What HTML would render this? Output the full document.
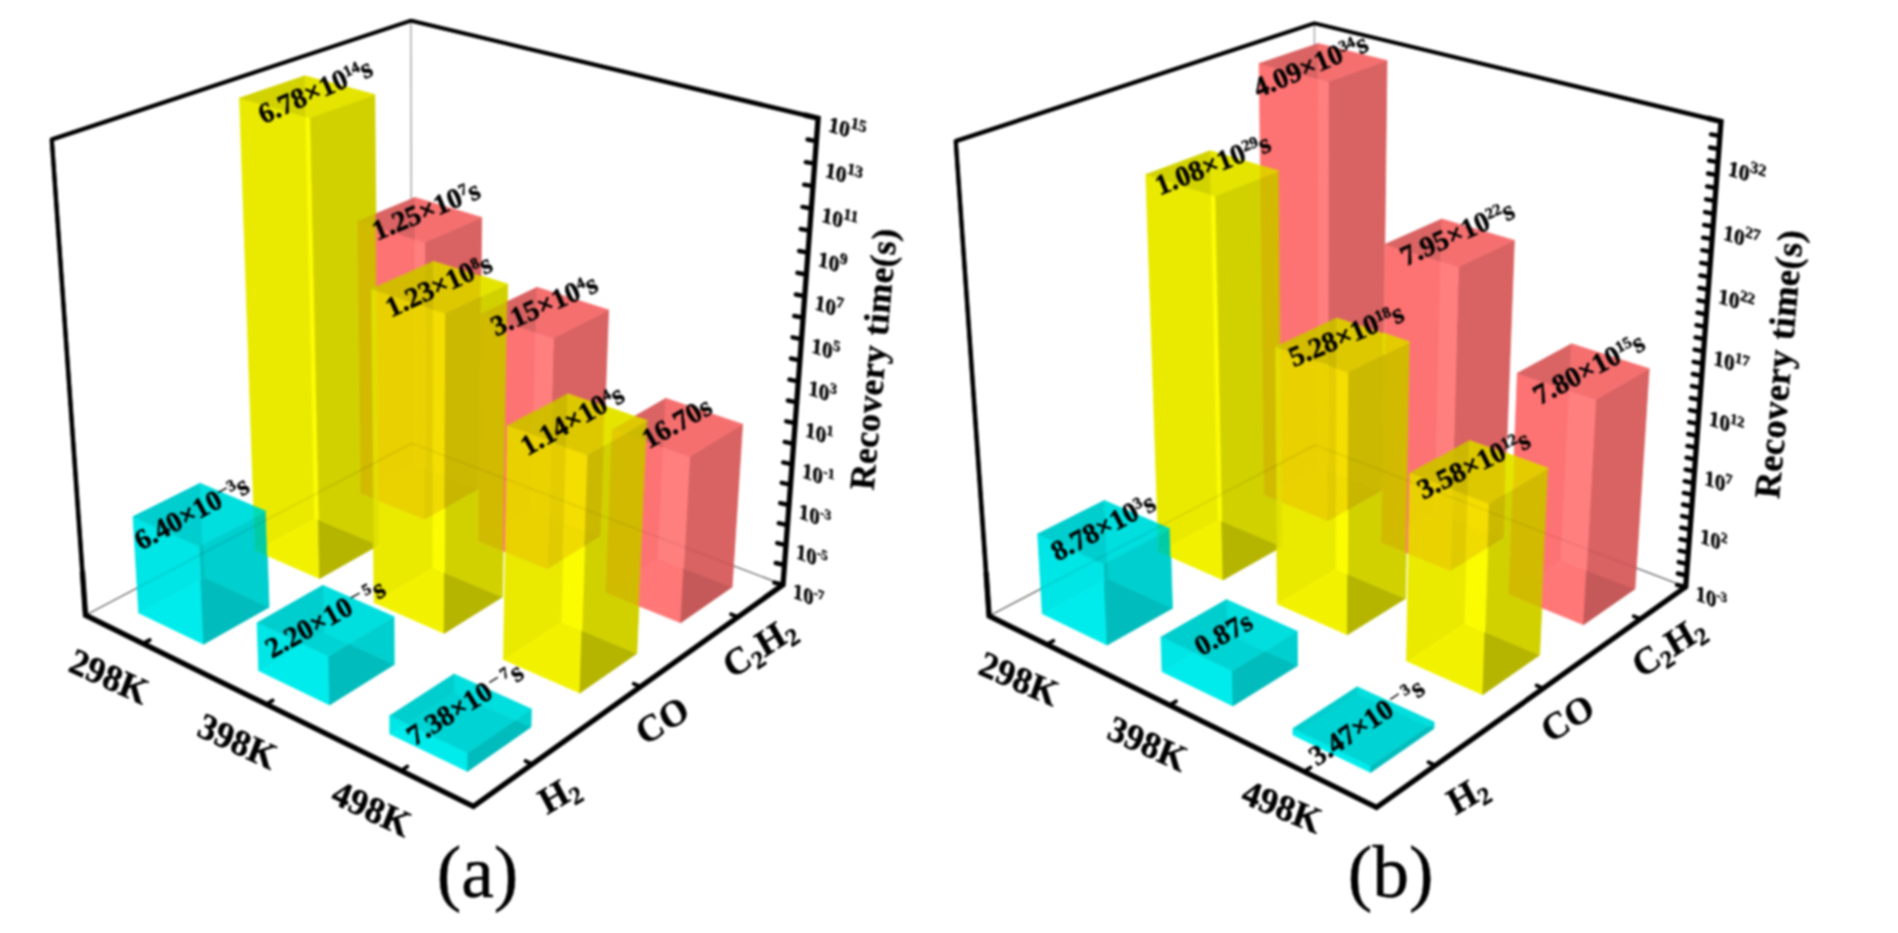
<!DOCTYPE html>
<html><head><meta charset="utf-8"><title>Recovery time</title>
<style>html,body{margin:0;padding:0;background:#fff;overflow:hidden}svg{display:block;filter:blur(0.9px)}text{font-family:"Liberation Serif","Times New Roman",serif;fill:#000;stroke:#000;stroke-width:0.45px}</style></head>
<body>
<svg width="1898" height="933" viewBox="0 0 1898 933">
<line x1="411.8" y1="443.2" x2="410.9" y2="20.6" stroke="#a8a8a8" stroke-width="1.5" stroke-linecap="butt"/>
<line x1="85.5" y1="615.2" x2="411.8" y2="443.2" stroke="#707070" stroke-width="1.3" stroke-linecap="butt"/>
<line x1="411.8" y1="443.2" x2="783.0" y2="584.7" stroke="#707070" stroke-width="1.3" stroke-linecap="butt"/>
<polygon points="138.7,612.9 203.6,644.2 200.7,579.6 138.7,612.9" fill="rgb(0,236,236)" stroke="rgb(0,236,236)" stroke-width="0.7" stroke-linejoin="round"/>
<polygon points="203.6,644.2 269.1,607.2 204.4,577.5 200.7,579.6 203.6,644.2" fill="rgb(0,188,188)" stroke="rgb(0,188,188)" stroke-width="0.7" stroke-linejoin="round"/>
<polygon points="204.4,577.5 269.1,607.2 267.4,555.7 255.2,550.3 254.0,517.5 202.9,544.2 204.4,577.5" fill="rgb(0,207,207)" stroke="rgb(0,207,207)" stroke-width="0.7" stroke-linejoin="round"/>
<polygon points="200.7,579.6 204.4,577.5 202.9,544.2 199.1,546.2 200.7,579.6" fill="rgb(0,190,190)" stroke="rgb(0,190,190)" stroke-width="0.7" stroke-linejoin="round"/>
<polygon points="138.7,612.9 200.7,579.6 199.1,546.2 133.0,516.6 138.7,612.9" fill="rgb(0,229,229)" stroke="rgb(0,229,229)" stroke-width="0.7" stroke-linejoin="round"/>
<polygon points="202.9,544.2 200.1,483.2 133.0,516.6 199.1,546.2 202.9,544.2" fill="rgb(0,205,205)" stroke="rgb(0,205,205)" stroke-width="0.7" stroke-linejoin="round"/>
<polygon points="200.1,483.2 202.9,544.2 254.0,517.5 253.6,506.0 200.1,483.2" fill="rgb(0,222,222)" stroke="rgb(0,222,222)" stroke-width="0.7" stroke-linejoin="round"/>
<polygon points="267.4,555.7 267.1,543.9 255.2,550.3 267.4,555.7" fill="rgb(0,205,165)" stroke="rgb(0,205,165)" stroke-width="0.7" stroke-linejoin="round"/>
<polygon points="267.1,543.9 267.4,555.7 319.6,578.6 318.3,519.7 314.8,518.2 267.1,543.9" fill="rgb(242,242,0)" stroke="rgb(242,242,0)" stroke-width="0.7" stroke-linejoin="round"/>
<polygon points="267.1,543.9 266.0,511.2 254.0,517.5 255.2,550.3 267.1,543.9" fill="rgb(0,203,165)" stroke="rgb(0,203,165)" stroke-width="0.7" stroke-linejoin="round"/>
<polygon points="266.0,511.2 267.1,543.9 314.8,518.2 305.9,116.7 239.5,98.0 253.6,506.0 266.0,511.2" fill="rgb(234,234,0)" stroke="rgb(234,234,0)" stroke-width="0.7" stroke-linejoin="round"/>
<polygon points="266.0,511.2 253.6,506.0 254.0,517.5 266.0,511.2" fill="rgb(0,218,177)" stroke="rgb(0,218,177)" stroke-width="0.7" stroke-linejoin="round"/>
<polygon points="258.7,670.7 329.6,704.9 328.6,656.1 303.4,644.4 258.7,670.7" fill="rgb(0,236,236)" stroke="rgb(0,236,236)" stroke-width="0.7" stroke-linejoin="round"/>
<polygon points="329.6,704.9 394.3,664.5 349.1,643.8 328.6,656.1 329.6,704.9" fill="rgb(0,188,188)" stroke="rgb(0,188,188)" stroke-width="0.7" stroke-linejoin="round"/>
<polygon points="349.1,643.8 394.3,664.5 394.0,616.7 349.1,643.8" fill="rgb(0,207,207)" stroke="rgb(0,207,207)" stroke-width="0.7" stroke-linejoin="round"/>
<polygon points="349.1,643.8 323.8,632.3 303.4,644.4 328.6,656.1 349.1,643.8" fill="rgb(0,211,211)" stroke="rgb(0,211,211)" stroke-width="0.7" stroke-linejoin="round"/>
<polygon points="323.8,632.3 349.1,643.8 394.0,616.7 322.9,585.3 323.8,632.3" fill="rgb(0,222,222)" stroke="rgb(0,222,222)" stroke-width="0.7" stroke-linejoin="round"/>
<polygon points="303.4,644.4 323.8,632.3 322.9,585.3 257.0,622.8 303.4,644.4" fill="rgb(0,205,205)" stroke="rgb(0,205,205)" stroke-width="0.7" stroke-linejoin="round"/>
<polygon points="258.7,670.7 303.4,644.4 257.0,622.8 258.7,670.7" fill="rgb(0,229,229)" stroke="rgb(0,229,229)" stroke-width="0.7" stroke-linejoin="round"/>
<polygon points="389.8,733.9 467.5,771.4 467.7,752.8 405.9,723.4 389.8,733.9" fill="rgb(0,236,236)" stroke="rgb(0,236,236)" stroke-width="0.7" stroke-linejoin="round"/>
<polygon points="467.5,771.4 531.0,727.1 515.4,720.0 467.7,752.8 467.5,771.4" fill="rgb(0,188,188)" stroke="rgb(0,188,188)" stroke-width="0.7" stroke-linejoin="round"/>
<polygon points="515.4,720.0 531.0,727.1 531.4,709.0 515.4,720.0" fill="rgb(0,207,207)" stroke="rgb(0,207,207)" stroke-width="0.7" stroke-linejoin="round"/>
<polygon points="515.4,720.0 454.0,691.9 405.9,723.4 467.7,752.8 515.4,720.0" fill="rgb(0,211,211)" stroke="rgb(0,211,211)" stroke-width="0.7" stroke-linejoin="round"/>
<polygon points="454.0,691.9 515.4,720.0 531.4,709.0 454.1,674.0 454.0,691.9" fill="rgb(0,222,222)" stroke="rgb(0,222,222)" stroke-width="0.7" stroke-linejoin="round"/>
<polygon points="405.9,723.4 454.0,691.9 454.1,674.0 389.7,715.7 405.9,723.4" fill="rgb(0,205,205)" stroke="rgb(0,205,205)" stroke-width="0.7" stroke-linejoin="round"/>
<polygon points="389.8,733.9 405.9,723.4 389.7,715.7 389.8,733.9" fill="rgb(0,229,229)" stroke="rgb(0,229,229)" stroke-width="0.7" stroke-linejoin="round"/>
<polygon points="319.6,578.6 373.5,548.1 373.5,542.8 318.3,519.7 319.6,578.6" fill="rgb(181,181,0)" stroke="rgb(181,181,0)" stroke-width="0.7" stroke-linejoin="round"/>
<polygon points="373.5,548.1 378.9,545.1 373.5,542.8 373.5,548.1" fill="rgb(220,220,0)" stroke="rgb(220,220,0)" stroke-width="0.7" stroke-linejoin="round"/>
<polygon points="378.9,545.1 373.5,548.1 374.1,602.6 433.0,567.8 433.1,514.4 424.7,519.2 378.5,500.4 378.9,545.1" fill="rgb(234,234,0)" stroke="rgb(234,234,0)" stroke-width="0.7" stroke-linejoin="round"/>
<polygon points="373.5,542.8 378.9,545.1 378.5,500.4 373.0,498.2 373.5,542.8" fill="rgb(225,225,0)" stroke="rgb(225,225,0)" stroke-width="0.7" stroke-linejoin="round"/>
<polygon points="318.3,519.7 373.5,542.8 373.0,498.2 361.0,493.4 357.6,221.2 375.9,213.7 374.8,94.5 309.7,117.8 318.3,519.7" fill="rgb(209,209,0)" stroke="rgb(209,209,0)" stroke-width="0.7" stroke-linejoin="round"/>
<polygon points="314.8,518.2 318.3,519.7 309.7,117.8 305.9,116.7 314.8,518.2" fill="rgb(252,252,0)" stroke="rgb(252,252,0)" stroke-width="0.7" stroke-linejoin="round"/>
<polygon points="305.9,116.7 305.0,75.8 239.5,98.0 305.9,116.7" fill="rgb(210,210,0)" stroke="rgb(210,210,0)" stroke-width="0.7" stroke-linejoin="round"/>
<polygon points="305.0,75.8 305.9,116.7 309.7,117.8 374.8,94.5 305.0,75.8" fill="rgb(228,228,0)" stroke="rgb(228,228,0)" stroke-width="0.7" stroke-linejoin="round"/>
<polygon points="378.5,500.4 378.3,484.1 372.9,487.0 373.0,498.2 378.5,500.4" fill="rgb(225,221,0)" stroke="rgb(225,221,0)" stroke-width="0.7" stroke-linejoin="round"/>
<polygon points="378.3,484.1 378.5,500.4 424.7,519.2 424.7,467.8 415.4,464.2 378.3,484.1" fill="rgb(234,209,0)" stroke="rgb(234,209,0)" stroke-width="0.7" stroke-linejoin="round"/>
<polygon points="378.3,484.1 376.6,290.5 370.9,288.6 372.9,487.0 378.3,484.1" fill="rgb(225,221,0)" stroke="rgb(225,221,0)" stroke-width="0.7" stroke-linejoin="round"/>
<polygon points="376.6,290.5 378.3,484.1 415.4,464.2 415.1,303.4 376.6,290.5" fill="rgb(233,208,0)" stroke="rgb(233,208,0)" stroke-width="0.7" stroke-linejoin="round"/>
<polygon points="376.6,290.5 376.5,286.1 370.9,288.6 376.6,290.5" fill="rgb(202,199,0)" stroke="rgb(202,199,0)" stroke-width="0.7" stroke-linejoin="round"/>
<polygon points="376.5,286.1 376.6,290.5 415.1,303.4 415.1,268.9 376.5,286.1" fill="rgb(210,187,0)" stroke="rgb(210,187,0)" stroke-width="0.7" stroke-linejoin="round"/>
<polygon points="376.5,286.1 376.0,227.0 357.6,221.2 361.0,493.4 372.9,487.0 370.9,288.6 376.5,286.1" fill="rgb(209,186,0)" stroke="rgb(209,186,0)" stroke-width="0.7" stroke-linejoin="round"/>
<polygon points="376.0,227.0 376.5,286.1 415.1,268.9 415.1,239.2 376.0,227.0" fill="rgb(253,114,114)" stroke="rgb(253,114,114)" stroke-width="0.7" stroke-linejoin="round"/>
<polygon points="376.0,227.0 375.9,213.7 357.6,221.2 376.0,227.0" fill="rgb(203,184,0)" stroke="rgb(203,184,0)" stroke-width="0.7" stroke-linejoin="round"/>
<polygon points="375.9,213.7 376.0,227.0 415.1,239.2 415.0,197.5 375.9,213.7" fill="rgb(218,99,99)" stroke="rgb(218,99,99)" stroke-width="0.7" stroke-linejoin="round"/>
<polygon points="374.1,602.6 444.1,633.4 444.4,572.6 433.0,567.8 374.1,602.6" fill="rgb(242,242,0)" stroke="rgb(242,242,0)" stroke-width="0.7" stroke-linejoin="round"/>
<polygon points="444.1,633.4 502.4,597.0 444.4,572.6 444.1,633.4" fill="rgb(181,181,0)" stroke="rgb(181,181,0)" stroke-width="0.7" stroke-linejoin="round"/>
<polygon points="444.4,572.6 502.4,597.0 503.2,550.9 478.5,540.9 481.1,314.2 507.4,301.6 507.7,284.1 480.8,296.8 478.6,488.7 444.7,507.9 444.4,572.6" fill="rgb(209,209,0)" stroke="rgb(209,209,0)" stroke-width="0.7" stroke-linejoin="round"/>
<polygon points="433.0,567.8 444.4,572.6 444.7,507.9 433.1,514.4 433.0,567.8" fill="rgb(252,252,0)" stroke="rgb(252,252,0)" stroke-width="0.7" stroke-linejoin="round"/>
<polygon points="433.1,514.4 433.2,471.1 424.7,467.8 424.7,519.2 433.1,514.4" fill="rgb(223,203,0)" stroke="rgb(223,203,0)" stroke-width="0.7" stroke-linejoin="round"/>
<polygon points="433.2,471.1 433.1,514.4 444.7,507.9 444.8,475.6 433.2,471.1" fill="rgb(240,219,0)" stroke="rgb(240,219,0)" stroke-width="0.7" stroke-linejoin="round"/>
<polygon points="433.2,471.1 433.5,309.5 424.8,306.6 424.7,467.8 433.2,471.1" fill="rgb(227,205,0)" stroke="rgb(227,205,0)" stroke-width="0.7" stroke-linejoin="round"/>
<polygon points="433.5,309.5 433.2,471.1 444.8,475.6 445.6,313.6 433.5,309.5" fill="rgb(244,221,0)" stroke="rgb(244,221,0)" stroke-width="0.7" stroke-linejoin="round"/>
<polygon points="433.5,309.5 433.6,260.6 424.8,264.5 424.8,306.6 433.5,309.5" fill="rgb(204,184,0)" stroke="rgb(204,184,0)" stroke-width="0.7" stroke-linejoin="round"/>
<polygon points="433.6,260.6 433.5,309.5 445.6,313.6 480.8,296.8 481.1,275.7 433.6,260.6" fill="rgb(221,200,0)" stroke="rgb(221,200,0)" stroke-width="0.7" stroke-linejoin="round"/>
<polygon points="424.8,264.5 433.6,260.6 481.1,275.7 481.7,217.4 424.8,242.2 424.8,264.5" fill="rgb(217,98,98)" stroke="rgb(217,98,98)" stroke-width="0.7" stroke-linejoin="round"/>
<polygon points="424.8,264.5 415.1,268.9 415.1,303.4 424.8,306.6 424.8,264.5" fill="rgb(210,189,0)" stroke="rgb(210,189,0)" stroke-width="0.7" stroke-linejoin="round"/>
<polygon points="415.1,268.9 424.8,264.5 424.8,242.2 415.1,239.2 415.1,268.9" fill="rgb(255,126,126)" stroke="rgb(255,126,126)" stroke-width="0.7" stroke-linejoin="round"/>
<polygon points="373.0,498.2 372.9,487.0 361.0,493.4 373.0,498.2" fill="rgb(209,187,0)" stroke="rgb(209,187,0)" stroke-width="0.7" stroke-linejoin="round"/>
<polygon points="503.2,550.9 503.6,526.1 478.5,540.9 503.2,550.9" fill="rgb(209,187,0)" stroke="rgb(209,187,0)" stroke-width="0.7" stroke-linejoin="round"/>
<polygon points="503.6,526.1 503.2,550.9 505.3,551.8 505.7,524.9 503.6,526.1" fill="rgb(255,119,119)" stroke="rgb(255,119,119)" stroke-width="0.7" stroke-linejoin="round"/>
<polygon points="503.6,526.1 507.0,322.8 481.1,314.2 478.5,540.9 503.6,526.1" fill="rgb(209,186,0)" stroke="rgb(209,186,0)" stroke-width="0.7" stroke-linejoin="round"/>
<polygon points="507.0,322.8 503.6,526.1 505.7,524.9 507.4,425.9 534.2,411.3 535.9,332.4 507.0,322.8" fill="rgb(253,114,114)" stroke="rgb(253,114,114)" stroke-width="0.7" stroke-linejoin="round"/>
<polygon points="507.0,322.8 507.4,301.6 481.1,314.2 507.0,322.8" fill="rgb(203,184,0)" stroke="rgb(203,184,0)" stroke-width="0.7" stroke-linejoin="round"/>
<polygon points="507.4,301.6 507.0,322.8 535.9,332.4 537.0,287.3 507.4,301.6" fill="rgb(218,99,99)" stroke="rgb(218,99,99)" stroke-width="0.7" stroke-linejoin="round"/>
<polygon points="507.7,284.1 481.1,275.7 480.8,296.8 507.7,284.1" fill="rgb(228,228,0)" stroke="rgb(228,228,0)" stroke-width="0.7" stroke-linejoin="round"/>
<polygon points="444.8,475.6 444.7,507.9 478.6,488.7 444.8,475.6" fill="rgb(200,182,0)" stroke="rgb(200,182,0)" stroke-width="0.7" stroke-linejoin="round"/>
<polygon points="445.6,313.6 444.8,475.6 478.6,488.7 480.8,296.8 445.6,313.6" fill="rgb(203,184,0)" stroke="rgb(203,184,0)" stroke-width="0.7" stroke-linejoin="round"/>
<polygon points="424.8,306.6 415.1,303.4 415.4,464.2 424.7,467.8 424.8,306.6" fill="rgb(234,210,0)" stroke="rgb(234,210,0)" stroke-width="0.7" stroke-linejoin="round"/>
<polygon points="503.4,659.5 579.8,693.1 581.9,630.4 561.2,621.7 503.4,659.5" fill="rgb(242,242,0)" stroke="rgb(242,242,0)" stroke-width="0.7" stroke-linejoin="round"/>
<polygon points="579.8,693.1 636.8,653.4 581.9,630.4 579.8,693.1" fill="rgb(181,181,0)" stroke="rgb(181,181,0)" stroke-width="0.7" stroke-linejoin="round"/>
<polygon points="581.9,630.4 636.8,653.4 638.9,605.9 605.8,592.5 611.5,441.3 603.6,445.9 600.3,535.9 584.7,545.6 581.9,630.4" fill="rgb(209,209,0)" stroke="rgb(209,209,0)" stroke-width="0.7" stroke-linejoin="round"/>
<polygon points="561.2,621.7 581.9,630.4 584.7,545.6 563.0,559.1 561.2,621.7" fill="rgb(252,252,0)" stroke="rgb(252,252,0)" stroke-width="0.7" stroke-linejoin="round"/>
<polygon points="503.4,659.5 561.2,621.7 563.0,559.1 547.4,568.9 505.3,551.8 503.4,659.5" fill="rgb(234,234,0)" stroke="rgb(234,234,0)" stroke-width="0.7" stroke-linejoin="round"/>
<polygon points="563.0,559.1 564.1,521.8 548.8,515.9 547.4,568.9 563.0,559.1" fill="rgb(223,203,0)" stroke="rgb(223,203,0)" stroke-width="0.7" stroke-linejoin="round"/>
<polygon points="564.1,521.8 563.0,559.1 584.7,545.6 585.3,530.0 564.1,521.8" fill="rgb(240,219,0)" stroke="rgb(240,219,0)" stroke-width="0.7" stroke-linejoin="round"/>
<polygon points="564.1,521.8 566.3,447.3 550.8,441.6 548.8,515.9 564.1,521.8" fill="rgb(227,205,0)" stroke="rgb(227,205,0)" stroke-width="0.7" stroke-linejoin="round"/>
<polygon points="566.3,447.3 564.1,521.8 585.3,530.0 587.8,455.1 566.3,447.3" fill="rgb(244,221,0)" stroke="rgb(244,221,0)" stroke-width="0.7" stroke-linejoin="round"/>
<polygon points="566.3,447.3 567.9,393.0 551.8,401.8 550.8,441.6 566.3,447.3" fill="rgb(204,184,0)" stroke="rgb(204,184,0)" stroke-width="0.7" stroke-linejoin="round"/>
<polygon points="567.9,393.0 566.3,447.3 587.8,455.1 603.6,445.9 605.1,405.9 567.9,393.0" fill="rgb(221,200,0)" stroke="rgb(221,200,0)" stroke-width="0.7" stroke-linejoin="round"/>
<polygon points="551.8,401.8 567.9,393.0 605.1,405.9 608.6,309.9 553.4,338.1 551.8,401.8" fill="rgb(217,98,98)" stroke="rgb(217,98,98)" stroke-width="0.7" stroke-linejoin="round"/>
<polygon points="551.8,401.8 534.2,411.3 533.6,435.4 550.8,441.6 551.8,401.8" fill="rgb(210,189,0)" stroke="rgb(210,189,0)" stroke-width="0.7" stroke-linejoin="round"/>
<polygon points="534.2,411.3 551.8,401.8 553.4,338.1 535.9,332.4 534.2,411.3" fill="rgb(255,126,126)" stroke="rgb(255,126,126)" stroke-width="0.7" stroke-linejoin="round"/>
<polygon points="534.2,411.3 507.4,425.9 533.6,435.4 534.2,411.3" fill="rgb(210,187,0)" stroke="rgb(210,187,0)" stroke-width="0.7" stroke-linejoin="round"/>
<polygon points="507.4,425.9 505.7,524.9 532.0,509.4 533.6,435.4 507.4,425.9" fill="rgb(233,208,0)" stroke="rgb(233,208,0)" stroke-width="0.7" stroke-linejoin="round"/>
<polygon points="505.7,524.9 505.3,551.8 547.4,568.9 548.8,515.9 532.0,509.4 505.7,524.9" fill="rgb(234,209,0)" stroke="rgb(234,209,0)" stroke-width="0.7" stroke-linejoin="round"/>
<polygon points="638.9,605.9 640.6,569.7 605.8,592.5 638.9,605.9" fill="rgb(209,187,0)" stroke="rgb(209,187,0)" stroke-width="0.7" stroke-linejoin="round"/>
<polygon points="640.6,569.7 638.9,605.9 680.7,622.8 683.6,568.2 658.0,558.2 640.6,569.7" fill="rgb(255,119,119)" stroke="rgb(255,119,119)" stroke-width="0.7" stroke-linejoin="round"/>
<polygon points="640.6,569.7 646.4,441.3 624.7,433.7 611.5,441.3 605.8,592.5 640.6,569.7" fill="rgb(209,186,0)" stroke="rgb(209,186,0)" stroke-width="0.7" stroke-linejoin="round"/>
<polygon points="646.4,441.3 640.6,569.7 658.0,558.2 663.4,447.3 646.4,441.3" fill="rgb(253,114,114)" stroke="rgb(253,114,114)" stroke-width="0.7" stroke-linejoin="round"/>
<polygon points="646.4,441.3 647.3,420.6 624.7,433.7 646.4,441.3" fill="rgb(203,184,0)" stroke="rgb(203,184,0)" stroke-width="0.7" stroke-linejoin="round"/>
<polygon points="647.3,420.6 646.4,441.3 663.4,447.3 665.8,398.3 634.7,416.2 647.3,420.6" fill="rgb(218,99,99)" stroke="rgb(218,99,99)" stroke-width="0.7" stroke-linejoin="round"/>
<polygon points="647.3,420.6 634.7,416.2 612.0,429.2 624.7,433.7 647.3,420.6" fill="rgb(222,200,0)" stroke="rgb(222,200,0)" stroke-width="0.7" stroke-linejoin="round"/>
<polygon points="634.7,416.2 605.1,405.9 603.6,445.9 611.5,441.3 612.0,429.2 634.7,416.2" fill="rgb(228,228,0)" stroke="rgb(228,228,0)" stroke-width="0.7" stroke-linejoin="round"/>
<polygon points="585.3,530.0 584.7,545.6 600.3,535.9 585.3,530.0" fill="rgb(200,182,0)" stroke="rgb(200,182,0)" stroke-width="0.7" stroke-linejoin="round"/>
<polygon points="587.8,455.1 585.3,530.0 600.3,535.9 603.6,445.9 587.8,455.1" fill="rgb(203,184,0)" stroke="rgb(203,184,0)" stroke-width="0.7" stroke-linejoin="round"/>
<polygon points="550.8,441.6 533.6,435.4 532.0,509.4 548.8,515.9 550.8,441.6" fill="rgb(234,210,0)" stroke="rgb(234,210,0)" stroke-width="0.7" stroke-linejoin="round"/>
<polygon points="611.5,441.3 624.7,433.7 612.0,429.2 611.5,441.3" fill="rgb(228,203,0)" stroke="rgb(228,203,0)" stroke-width="0.7" stroke-linejoin="round"/>
<polygon points="415.0,197.5 415.1,239.2 424.8,242.2 481.7,217.4 415.0,197.5" fill="rgb(245,111,111)" stroke="rgb(245,111,111)" stroke-width="0.7" stroke-linejoin="round"/>
<polygon points="537.0,287.3 535.9,332.4 553.4,338.1 608.6,309.9 537.0,287.3" fill="rgb(245,111,111)" stroke="rgb(245,111,111)" stroke-width="0.7" stroke-linejoin="round"/>
<polygon points="680.7,622.8 732.1,587.0 683.6,568.2 680.7,622.8" fill="rgb(197,88,88)" stroke="rgb(197,88,88)" stroke-width="0.7" stroke-linejoin="round"/>
<polygon points="683.6,568.2 732.1,587.0 742.6,424.2 689.7,456.6 683.6,568.2" fill="rgb(217,98,98)" stroke="rgb(217,98,98)" stroke-width="0.7" stroke-linejoin="round"/>
<polygon points="658.0,558.2 683.6,568.2 689.7,456.6 663.4,447.3 658.0,558.2" fill="rgb(255,126,126)" stroke="rgb(255,126,126)" stroke-width="0.7" stroke-linejoin="round"/>
<polygon points="665.8,398.3 663.4,447.3 689.7,456.6 742.6,424.2 665.8,398.3" fill="rgb(245,111,111)" stroke="rgb(245,111,111)" stroke-width="0.7" stroke-linejoin="round"/>
<line x1="85.5" y1="615.2" x2="411.8" y2="443.2" stroke="#000" stroke-width="1.6" stroke-linecap="butt" stroke-opacity="0.09"/>
<line x1="411.8" y1="443.2" x2="783.0" y2="584.7" stroke="#000" stroke-width="1.6" stroke-linecap="butt" stroke-opacity="0.07"/>
<polyline points="85.5,615.2 51.8,139.4 410.9,20.6 818.1,118.3 814.3,169.0" fill="none" stroke="#000" stroke-width="3.7" stroke-linejoin="miter" stroke-linecap="butt"/>
<polygon points="87.7,615.0 53.9,139.3 49.6,139.6 83.2,615.4" fill="#000"/>
<polygon points="52.5,141.4 411.5,22.4 410.3,18.9 51.1,137.4" fill="#000"/>
<polygon points="410.5,22.4 817.6,120.6 818.7,115.9 411.3,18.8" fill="#000"/>
<polyline points="82.4,571.5 85.5,615.2 473.4,806.3 783.0,584.7 818.1,118.3 804.3,114.9" fill="none" stroke="#000" stroke-width="5.3" stroke-linejoin="miter" stroke-linecap="butt"/>
<line x1="143.1" y1="643.6" x2="149.7" y2="640.0" stroke="#000" stroke-width="3.8" stroke-linecap="round"/>
<line x1="532.3" y1="764.2" x2="525.5" y2="761.0" stroke="#000" stroke-width="3.8" stroke-linecap="round"/>
<line x1="266.3" y1="704.3" x2="272.7" y2="700.4" stroke="#000" stroke-width="3.8" stroke-linecap="round"/>
<line x1="640.6" y1="686.7" x2="633.7" y2="683.7" stroke="#000" stroke-width="3.8" stroke-linecap="round"/>
<line x1="401.1" y1="770.7" x2="407.3" y2="766.5" stroke="#000" stroke-width="3.8" stroke-linecap="round"/>
<line x1="737.9" y1="617.0" x2="731.0" y2="614.2" stroke="#000" stroke-width="3.8" stroke-linecap="round"/>
<line x1="783.0" y1="584.7" x2="774.3" y2="582.7" stroke="#000" stroke-width="4.4" stroke-linecap="round"/>
<line x1="784.5" y1="565.0" x2="775.7" y2="563.0" stroke="#000" stroke-width="4.4" stroke-linecap="round"/>
<line x1="786.0" y1="545.1" x2="777.2" y2="543.1" stroke="#000" stroke-width="4.4" stroke-linecap="round"/>
<line x1="787.4" y1="525.1" x2="778.7" y2="523.2" stroke="#000" stroke-width="4.4" stroke-linecap="round"/>
<line x1="788.9" y1="505.0" x2="780.2" y2="503.1" stroke="#000" stroke-width="4.4" stroke-linecap="round"/>
<line x1="790.5" y1="484.7" x2="781.7" y2="482.8" stroke="#000" stroke-width="4.4" stroke-linecap="round"/>
<line x1="792.0" y1="464.3" x2="783.2" y2="462.4" stroke="#000" stroke-width="4.4" stroke-linecap="round"/>
<line x1="793.5" y1="443.8" x2="784.7" y2="441.9" stroke="#000" stroke-width="4.4" stroke-linecap="round"/>
<line x1="795.1" y1="423.2" x2="786.2" y2="421.3" stroke="#000" stroke-width="4.4" stroke-linecap="round"/>
<line x1="796.6" y1="402.4" x2="787.8" y2="400.5" stroke="#000" stroke-width="4.4" stroke-linecap="round"/>
<line x1="798.2" y1="381.4" x2="789.4" y2="379.6" stroke="#000" stroke-width="4.4" stroke-linecap="round"/>
<line x1="799.8" y1="360.3" x2="790.9" y2="358.5" stroke="#000" stroke-width="4.4" stroke-linecap="round"/>
<line x1="801.4" y1="339.1" x2="792.5" y2="337.3" stroke="#000" stroke-width="4.4" stroke-linecap="round"/>
<line x1="803.0" y1="317.7" x2="794.2" y2="316.0" stroke="#000" stroke-width="4.4" stroke-linecap="round"/>
<line x1="804.6" y1="296.2" x2="795.8" y2="294.5" stroke="#000" stroke-width="4.4" stroke-linecap="round"/>
<line x1="806.2" y1="274.5" x2="797.4" y2="272.8" stroke="#000" stroke-width="4.4" stroke-linecap="round"/>
<line x1="807.9" y1="252.7" x2="799.1" y2="251.0" stroke="#000" stroke-width="4.4" stroke-linecap="round"/>
<line x1="809.6" y1="230.7" x2="800.7" y2="229.0" stroke="#000" stroke-width="4.4" stroke-linecap="round"/>
<line x1="811.3" y1="208.5" x2="802.4" y2="206.9" stroke="#000" stroke-width="4.4" stroke-linecap="round"/>
<line x1="813.0" y1="186.2" x2="804.1" y2="184.6" stroke="#000" stroke-width="4.4" stroke-linecap="round"/>
<line x1="814.7" y1="163.7" x2="805.8" y2="162.1" stroke="#000" stroke-width="4.4" stroke-linecap="round"/>
<line x1="816.4" y1="141.1" x2="807.5" y2="139.5" stroke="#000" stroke-width="4.4" stroke-linecap="round"/>
<text transform="translate(140.9,550.7) rotate(-28.3)" font-size="28.5" font-weight="bold" text-anchor="start"><tspan>6.40×10</tspan><tspan dy="-7.9" font-size="20.5" font-weight="normal">−</tspan><tspan dy="-1.5" font-size="16.0">3</tspan><tspan dy="9.4">s</tspan></text>
<text transform="translate(272.1,658.7) rotate(-29.1)" font-size="28.5" font-weight="bold" text-anchor="start"><tspan>2.20×10</tspan><tspan dx="3.0" dy="-7.9" font-size="20.5" font-weight="normal">−</tspan><tspan dx="3.0" dy="-1.5" font-size="16.0">5</tspan><tspan dx="1.0" dy="9.4">s</tspan></text>
<text transform="translate(414.3,746.4) rotate(-31.9)" font-size="28.5" font-weight="bold" text-anchor="start"><tspan>7.38×10</tspan><tspan dx="2.0" dy="-7.9" font-size="20.5" font-weight="normal">−</tspan><tspan dx="3.0" dy="-1.5" font-size="16.0">7</tspan><tspan dx="1.0" dy="9.4">s</tspan></text>
<text transform="translate(263.5,124.2) rotate(-24.0)" font-size="28.5" font-weight="bold" text-anchor="start"><tspan>6.78×10</tspan><tspan dy="-9.4" font-size="16.0">14</tspan><tspan dy="9.4">s</tspan></text>
<text transform="translate(391.0,317.7) rotate(-24.6)" font-size="28.5" font-weight="bold" text-anchor="start"><tspan>1.23×10</tspan><tspan dy="-9.4" font-size="16.0">8</tspan><tspan dy="9.4">s</tspan></text>
<text transform="translate(527.3,456.2) rotate(-29.4)" font-size="28.5" font-weight="bold" text-anchor="start"><tspan>1.14×10</tspan><tspan dy="-9.4" font-size="16.0">4</tspan><tspan dy="9.4">s</tspan></text>
<text transform="translate(377.1,240.8) rotate(-22.5)" font-size="28.5" font-weight="bold" text-anchor="start"><tspan>1.25×10</tspan><tspan dy="-9.4" font-size="16.0">7</tspan><tspan dy="9.4">s</tspan></text>
<text transform="translate(495.9,336.5) rotate(-23.8)" font-size="28.5" font-weight="bold" text-anchor="start"><tspan>3.15×10</tspan><tspan dy="-9.4" font-size="16.0">4</tspan><tspan dy="9.4">s</tspan></text>
<text transform="translate(648.7,449.3) rotate(-29.6)" font-size="28.5" font-weight="bold" text-anchor="start"><tspan>16.70</tspan><tspan>s</tspan></text>
<text transform="translate(67.0,670.5) rotate(24.7) skewX(4.0)" font-size="36.5" font-weight="bold" text-anchor="start"><tspan>298K</tspan></text>
<text transform="translate(195.5,735.0) rotate(25.0) skewX(4.0)" font-size="36.5" font-weight="bold" text-anchor="start"><tspan>398K</tspan></text>
<text transform="translate(329.5,802.0) rotate(25.5) skewX(4.0)" font-size="36.5" font-weight="bold" text-anchor="start"><tspan>498K</tspan></text>
<text transform="translate(547.0,815.0) rotate(-31.0) skewX(-3.0)" font-size="37.0" font-weight="bold" text-anchor="start"><tspan>H</tspan><tspan dy="6.3" font-size="24.4">2</tspan></text>
<text transform="translate(644.5,746.0) rotate(-32.0) skewX(-3.0)" font-size="37.0" font-weight="bold" text-anchor="start"><tspan>CO</tspan></text>
<text transform="translate(732.0,679.3) rotate(-33.5) skewX(-4.0)" font-size="37.0" font-weight="bold" text-anchor="start"><tspan>C</tspan><tspan dy="6.3" font-size="24.4">2</tspan><tspan dy="-6.3">H</tspan><tspan dy="6.3" font-size="24.4">2</tspan></text>
<text transform="matrix(0.9563,0.2924,-0.1392,0.9903,827.8,131.1)" font-size="22.0" font-weight="bold"><tspan>10</tspan><tspan dy="-9.9" font-size="16.5">15</tspan></text>
<text transform="matrix(0.9544,0.2984,-0.1297,0.9915,824.4,176.5)" font-size="22.0" font-weight="bold"><tspan>10</tspan><tspan dy="-9.8" font-size="16.2">13</tspan></text>
<text transform="matrix(0.9525,0.3045,-0.1203,0.9927,821.0,221.3)" font-size="22.0" font-weight="bold"><tspan>10</tspan><tspan dy="-9.7" font-size="16.0">11</tspan></text>
<text transform="matrix(0.9506,0.3105,-0.1108,0.9938,817.6,265.5)" font-size="22.0" font-weight="bold"><tspan>10</tspan><tspan dy="-9.6" font-size="15.7">9</tspan></text>
<text transform="matrix(0.9486,0.3166,-0.1014,0.9948,814.3,309.0)" font-size="22.0" font-weight="bold"><tspan>10</tspan><tspan dy="-9.5" font-size="15.5">7</tspan></text>
<text transform="matrix(0.9465,0.3226,-0.0919,0.9958,811.1,351.9)" font-size="22.0" font-weight="bold"><tspan>10</tspan><tspan dy="-9.4" font-size="15.2">5</tspan></text>
<text transform="matrix(0.9445,0.3286,-0.0824,0.9966,807.9,394.2)" font-size="22.0" font-weight="bold"><tspan>10</tspan><tspan dy="-9.3" font-size="14.9">3</tspan></text>
<text transform="matrix(0.9424,0.3346,-0.0729,0.9973,804.8,436.0)" font-size="22.0" font-weight="bold"><tspan>10</tspan><tspan dy="-9.2" font-size="14.7">1</tspan></text>
<text transform="matrix(0.9402,0.3405,-0.0634,0.9980,801.7,477.1)" font-size="22.0" font-weight="bold"><tspan>10</tspan><tspan dy="-9.1" font-size="14.4">-1</tspan></text>
<text transform="matrix(0.9381,0.3465,-0.0539,0.9985,798.6,517.8)" font-size="22.0" font-weight="bold"><tspan>10</tspan><tspan dy="-9.0" font-size="14.2">-3</tspan></text>
<text transform="matrix(0.9358,0.3524,-0.0444,0.9990,795.7,557.9)" font-size="22.0" font-weight="bold"><tspan>10</tspan><tspan dy="-8.9" font-size="13.9">-5</tspan></text>
<text transform="matrix(0.9336,0.3584,-0.0349,0.9994,792.7,597.5)" font-size="22.0" font-weight="bold"><tspan>10</tspan><tspan dy="-8.8" font-size="13.6">-7</tspan></text>
<text letter-spacing="0.5" transform="translate(873.5,490.7) rotate(-84.9)" font-size="35.4" font-weight="bold" text-anchor="start"><tspan>Recovery time(s)</tspan></text>
<text transform="translate(477.5,897.0) rotate(0.0)" font-size="73.5" font-weight="normal" text-anchor="middle"><tspan>(a)</tspan></text>
<line x1="1315.1" y1="445.0" x2="1314.4" y2="23.3" stroke="#a8a8a8" stroke-width="1.5" stroke-linecap="butt"/>
<line x1="989.1" y1="616.0" x2="1315.1" y2="445.0" stroke="#707070" stroke-width="1.3" stroke-linecap="butt"/>
<line x1="1315.1" y1="445.0" x2="1685.7" y2="586.9" stroke="#707070" stroke-width="1.3" stroke-linecap="butt"/>
<polygon points="1042.3,613.7 1107.1,645.1 1104.2,580.6 1042.3,613.7" fill="rgb(0,236,236)" stroke="rgb(0,236,236)" stroke-width="0.7" stroke-linejoin="round"/>
<polygon points="1107.1,645.1 1172.5,608.3 1107.9,578.6 1104.2,580.6 1107.1,645.1" fill="rgb(0,188,188)" stroke="rgb(0,188,188)" stroke-width="0.7" stroke-linejoin="round"/>
<polygon points="1107.9,578.6 1172.5,608.3 1170.9,556.9 1158.6,551.5 1158.1,535.0 1107.2,561.8 1107.9,578.6" fill="rgb(0,207,207)" stroke="rgb(0,207,207)" stroke-width="0.7" stroke-linejoin="round"/>
<polygon points="1104.2,580.6 1107.9,578.6 1107.2,561.8 1103.4,563.8 1104.2,580.6" fill="rgb(0,190,190)" stroke="rgb(0,190,190)" stroke-width="0.7" stroke-linejoin="round"/>
<polygon points="1042.3,613.7 1104.2,580.6 1103.4,563.8 1037.6,533.9 1042.3,613.7" fill="rgb(0,229,229)" stroke="rgb(0,229,229)" stroke-width="0.7" stroke-linejoin="round"/>
<polygon points="1107.2,561.8 1104.4,500.4 1037.6,533.9 1103.4,563.8 1107.2,561.8" fill="rgb(0,205,205)" stroke="rgb(0,205,205)" stroke-width="0.7" stroke-linejoin="round"/>
<polygon points="1104.4,500.4 1107.2,561.8 1158.1,535.0 1157.7,523.4 1104.4,500.4" fill="rgb(0,222,222)" stroke="rgb(0,222,222)" stroke-width="0.7" stroke-linejoin="round"/>
<polygon points="1170.9,556.9 1170.5,545.1 1158.6,551.5 1170.9,556.9" fill="rgb(0,205,165)" stroke="rgb(0,205,165)" stroke-width="0.7" stroke-linejoin="round"/>
<polygon points="1170.5,545.1 1170.9,556.9 1223.0,579.9 1221.7,521.1 1218.2,519.6 1170.5,545.1" fill="rgb(242,242,0)" stroke="rgb(242,242,0)" stroke-width="0.7" stroke-linejoin="round"/>
<polygon points="1170.5,545.1 1170.0,528.7 1158.1,535.0 1158.6,551.5 1170.5,545.1" fill="rgb(0,203,165)" stroke="rgb(0,203,165)" stroke-width="0.7" stroke-linejoin="round"/>
<polygon points="1170.0,528.7 1170.5,545.1 1218.2,519.6 1211.2,194.8 1145.8,174.5 1157.7,523.4 1170.0,528.7" fill="rgb(234,234,0)" stroke="rgb(234,234,0)" stroke-width="0.7" stroke-linejoin="round"/>
<polygon points="1170.0,528.7 1157.7,523.4 1158.1,535.0 1170.0,528.7" fill="rgb(0,218,177)" stroke="rgb(0,218,177)" stroke-width="0.7" stroke-linejoin="round"/>
<polygon points="1162.1,671.7 1232.9,705.9 1232.2,670.8 1194.2,652.8 1162.1,671.7" fill="rgb(0,236,236)" stroke="rgb(0,236,236)" stroke-width="0.7" stroke-linejoin="round"/>
<polygon points="1232.9,705.9 1297.5,665.8 1265.1,650.9 1232.2,670.8 1232.9,705.9" fill="rgb(0,188,188)" stroke="rgb(0,188,188)" stroke-width="0.7" stroke-linejoin="round"/>
<polygon points="1265.1,650.9 1297.5,665.8 1297.3,631.3 1265.1,650.9" fill="rgb(0,207,207)" stroke="rgb(0,207,207)" stroke-width="0.7" stroke-linejoin="round"/>
<polygon points="1265.1,650.9 1227.2,633.4 1194.2,652.8 1232.2,670.8 1265.1,650.9" fill="rgb(0,211,211)" stroke="rgb(0,211,211)" stroke-width="0.7" stroke-linejoin="round"/>
<polygon points="1227.2,633.4 1265.1,650.9 1297.3,631.3 1226.5,599.6 1227.2,633.4" fill="rgb(0,222,222)" stroke="rgb(0,222,222)" stroke-width="0.7" stroke-linejoin="round"/>
<polygon points="1194.2,652.8 1227.2,633.4 1226.5,599.6 1160.9,637.1 1194.2,652.8" fill="rgb(0,205,205)" stroke="rgb(0,205,205)" stroke-width="0.7" stroke-linejoin="round"/>
<polygon points="1162.1,671.7 1194.2,652.8 1160.9,637.1 1162.1,671.7" fill="rgb(0,229,229)" stroke="rgb(0,229,229)" stroke-width="0.7" stroke-linejoin="round"/>
<polygon points="1293.0,735.0 1370.6,772.5 1370.6,765.9 1298.7,731.3 1293.0,735.0" fill="rgb(0,236,236)" stroke="rgb(0,236,236)" stroke-width="0.7" stroke-linejoin="round"/>
<polygon points="1370.6,772.5 1434.0,728.5 1428.4,726.0 1370.6,765.9 1370.6,772.5" fill="rgb(0,188,188)" stroke="rgb(0,188,188)" stroke-width="0.7" stroke-linejoin="round"/>
<polygon points="1428.4,726.0 1434.0,728.5 1434.1,722.0 1428.4,726.0" fill="rgb(0,207,207)" stroke="rgb(0,207,207)" stroke-width="0.7" stroke-linejoin="round"/>
<polygon points="1428.4,726.0 1357.1,693.2 1298.7,731.3 1370.6,765.9 1428.4,726.0" fill="rgb(0,211,211)" stroke="rgb(0,211,211)" stroke-width="0.7" stroke-linejoin="round"/>
<polygon points="1357.1,693.2 1428.4,726.0 1434.1,722.0 1357.2,686.8 1357.1,693.2" fill="rgb(0,222,222)" stroke="rgb(0,222,222)" stroke-width="0.7" stroke-linejoin="round"/>
<polygon points="1298.7,731.3 1357.1,693.2 1357.2,686.8 1292.9,728.5 1298.7,731.3" fill="rgb(0,205,205)" stroke="rgb(0,205,205)" stroke-width="0.7" stroke-linejoin="round"/>
<polygon points="1293.0,735.0 1298.7,731.3 1292.9,728.5 1293.0,735.0" fill="rgb(0,229,229)" stroke="rgb(0,229,229)" stroke-width="0.7" stroke-linejoin="round"/>
<polygon points="1223.0,579.9 1276.8,549.6 1276.8,544.3 1221.7,521.1 1223.0,579.9" fill="rgb(181,181,0)" stroke="rgb(181,181,0)" stroke-width="0.7" stroke-linejoin="round"/>
<polygon points="1276.8,549.6 1282.2,546.6 1276.8,544.3 1276.8,549.6" fill="rgb(220,220,0)" stroke="rgb(220,220,0)" stroke-width="0.7" stroke-linejoin="round"/>
<polygon points="1282.2,546.6 1276.8,549.6 1277.3,603.9 1336.2,569.3 1336.3,516.1 1327.9,520.8 1281.8,502.0 1282.2,546.6" fill="rgb(234,234,0)" stroke="rgb(234,234,0)" stroke-width="0.7" stroke-linejoin="round"/>
<polygon points="1276.8,544.3 1282.2,546.6 1281.8,502.0 1276.3,499.8 1276.8,544.3" fill="rgb(225,225,0)" stroke="rgb(225,225,0)" stroke-width="0.7" stroke-linejoin="round"/>
<polygon points="1221.7,521.1 1276.8,544.3 1276.3,499.8 1264.3,494.9 1260.5,178.1 1214.9,195.9 1221.7,521.1" fill="rgb(209,209,0)" stroke="rgb(209,209,0)" stroke-width="0.7" stroke-linejoin="round"/>
<polygon points="1218.2,519.6 1221.7,521.1 1214.9,195.9 1211.2,194.8 1218.2,519.6" fill="rgb(252,252,0)" stroke="rgb(252,252,0)" stroke-width="0.7" stroke-linejoin="round"/>
<polygon points="1211.2,194.8 1210.2,150.7 1145.8,174.5 1211.2,194.8" fill="rgb(210,210,0)" stroke="rgb(210,210,0)" stroke-width="0.7" stroke-linejoin="round"/>
<polygon points="1210.2,150.7 1211.2,194.8 1214.9,195.9 1260.5,178.1 1260.4,165.5 1210.2,150.7" fill="rgb(228,228,0)" stroke="rgb(228,228,0)" stroke-width="0.7" stroke-linejoin="round"/>
<polygon points="1281.8,502.0 1281.6,485.7 1276.2,488.6 1276.3,499.8 1281.8,502.0" fill="rgb(225,221,0)" stroke="rgb(225,221,0)" stroke-width="0.7" stroke-linejoin="round"/>
<polygon points="1281.6,485.7 1281.8,502.0 1327.9,520.8 1328.0,469.5 1318.7,465.9 1281.6,485.7" fill="rgb(234,209,0)" stroke="rgb(234,209,0)" stroke-width="0.7" stroke-linejoin="round"/>
<polygon points="1281.6,485.7 1280.5,348.4 1274.9,346.4 1276.2,488.6 1281.6,485.7" fill="rgb(225,221,0)" stroke="rgb(225,221,0)" stroke-width="0.7" stroke-linejoin="round"/>
<polygon points="1280.5,348.4 1281.6,485.7 1318.7,465.9 1318.6,361.9 1280.5,348.4" fill="rgb(233,208,0)" stroke="rgb(233,208,0)" stroke-width="0.7" stroke-linejoin="round"/>
<polygon points="1280.5,348.4 1280.4,343.8 1274.9,346.4 1280.5,348.4" fill="rgb(202,199,0)" stroke="rgb(202,199,0)" stroke-width="0.7" stroke-linejoin="round"/>
<polygon points="1280.4,343.8 1280.5,348.4 1318.6,361.9 1318.5,325.9 1280.4,343.8" fill="rgb(210,187,0)" stroke="rgb(210,187,0)" stroke-width="0.7" stroke-linejoin="round"/>
<polygon points="1280.4,343.8 1279.0,170.9 1260.5,178.1 1264.3,494.9 1276.2,488.6 1274.9,346.4 1280.4,343.8" fill="rgb(209,186,0)" stroke="rgb(209,186,0)" stroke-width="0.7" stroke-linejoin="round"/>
<polygon points="1279.0,170.9 1280.4,343.8 1318.5,325.9 1318.3,78.9 1259.1,63.5 1260.4,165.5 1279.0,170.9" fill="rgb(253,114,114)" stroke="rgb(253,114,114)" stroke-width="0.7" stroke-linejoin="round"/>
<polygon points="1279.0,170.9 1260.4,165.5 1260.5,178.1 1279.0,170.9" fill="rgb(228,203,0)" stroke="rgb(228,203,0)" stroke-width="0.7" stroke-linejoin="round"/>
<polygon points="1277.3,603.9 1347.3,634.8 1347.6,574.1 1336.2,569.3 1277.3,603.9" fill="rgb(242,242,0)" stroke="rgb(242,242,0)" stroke-width="0.7" stroke-linejoin="round"/>
<polygon points="1347.3,634.8 1405.5,598.6 1347.6,574.1 1347.3,634.8" fill="rgb(181,181,0)" stroke="rgb(181,181,0)" stroke-width="0.7" stroke-linejoin="round"/>
<polygon points="1347.6,574.1 1405.5,598.6 1406.3,552.6 1381.6,542.6 1383.9,354.9 1383.4,355.1 1381.8,490.5 1347.9,509.6 1347.6,574.1" fill="rgb(209,209,0)" stroke="rgb(209,209,0)" stroke-width="0.7" stroke-linejoin="round"/>
<polygon points="1336.2,569.3 1347.6,574.1 1347.9,509.6 1336.3,516.1 1336.2,569.3" fill="rgb(252,252,0)" stroke="rgb(252,252,0)" stroke-width="0.7" stroke-linejoin="round"/>
<polygon points="1336.3,516.1 1336.4,472.8 1328.0,469.5 1327.9,520.8 1336.3,516.1" fill="rgb(223,203,0)" stroke="rgb(223,203,0)" stroke-width="0.7" stroke-linejoin="round"/>
<polygon points="1336.4,472.8 1336.3,516.1 1347.9,509.6 1348.0,477.3 1336.4,472.8" fill="rgb(240,219,0)" stroke="rgb(240,219,0)" stroke-width="0.7" stroke-linejoin="round"/>
<polygon points="1336.4,472.8 1336.7,368.3 1328.1,365.3 1328.0,469.5 1336.4,472.8" fill="rgb(227,205,0)" stroke="rgb(227,205,0)" stroke-width="0.7" stroke-linejoin="round"/>
<polygon points="1336.7,368.3 1336.4,472.8 1348.0,477.3 1348.6,372.5 1336.7,368.3" fill="rgb(244,221,0)" stroke="rgb(244,221,0)" stroke-width="0.7" stroke-linejoin="round"/>
<polygon points="1336.7,368.3 1336.8,317.3 1328.1,321.3 1328.1,365.3 1336.7,368.3" fill="rgb(204,184,0)" stroke="rgb(204,184,0)" stroke-width="0.7" stroke-linejoin="round"/>
<polygon points="1336.8,317.3 1336.7,368.3 1348.6,372.5 1383.4,355.1 1383.7,333.1 1336.8,317.3" fill="rgb(221,200,0)" stroke="rgb(221,200,0)" stroke-width="0.7" stroke-linejoin="round"/>
<polygon points="1328.1,321.3 1336.8,317.3 1383.7,333.1 1387.0,60.6 1328.4,81.5 1328.1,321.3" fill="rgb(217,98,98)" stroke="rgb(217,98,98)" stroke-width="0.7" stroke-linejoin="round"/>
<polygon points="1328.1,321.3 1318.5,325.9 1318.6,361.9 1328.1,365.3 1328.1,321.3" fill="rgb(210,189,0)" stroke="rgb(210,189,0)" stroke-width="0.7" stroke-linejoin="round"/>
<polygon points="1318.5,325.9 1328.1,321.3 1328.4,81.5 1318.3,78.9 1318.5,325.9" fill="rgb(255,126,126)" stroke="rgb(255,126,126)" stroke-width="0.7" stroke-linejoin="round"/>
<polygon points="1276.3,499.8 1276.2,488.6 1264.3,494.9 1276.3,499.8" fill="rgb(209,187,0)" stroke="rgb(209,187,0)" stroke-width="0.7" stroke-linejoin="round"/>
<polygon points="1406.3,552.6 1406.7,527.9 1381.6,542.6 1406.3,552.6" fill="rgb(209,187,0)" stroke="rgb(209,187,0)" stroke-width="0.7" stroke-linejoin="round"/>
<polygon points="1406.7,527.9 1406.3,552.6 1408.4,553.5 1408.8,526.6 1406.7,527.9" fill="rgb(255,119,119)" stroke="rgb(255,119,119)" stroke-width="0.7" stroke-linejoin="round"/>
<polygon points="1406.7,527.9 1409.9,341.9 1383.9,354.9 1381.6,542.6 1406.7,527.9" fill="rgb(209,186,0)" stroke="rgb(209,186,0)" stroke-width="0.7" stroke-linejoin="round"/>
<polygon points="1409.9,341.9 1406.7,527.9 1408.8,526.6 1409.8,473.3 1436.3,458.4 1440.8,261.3 1385.2,244.2 1384.2,333.2 1409.9,341.9" fill="rgb(253,114,114)" stroke="rgb(253,114,114)" stroke-width="0.7" stroke-linejoin="round"/>
<polygon points="1409.9,341.9 1384.2,333.2 1383.9,354.9 1409.9,341.9" fill="rgb(228,203,0)" stroke="rgb(228,203,0)" stroke-width="0.7" stroke-linejoin="round"/>
<polygon points="1384.2,333.2 1383.7,333.1 1383.4,355.1 1383.9,354.9 1384.2,333.2" fill="rgb(228,228,0)" stroke="rgb(228,228,0)" stroke-width="0.7" stroke-linejoin="round"/>
<polygon points="1348.0,477.3 1347.9,509.6 1381.8,490.5 1348.0,477.3" fill="rgb(200,182,0)" stroke="rgb(200,182,0)" stroke-width="0.7" stroke-linejoin="round"/>
<polygon points="1348.6,372.5 1348.0,477.3 1381.8,490.5 1383.4,355.1 1348.6,372.5" fill="rgb(203,184,0)" stroke="rgb(203,184,0)" stroke-width="0.7" stroke-linejoin="round"/>
<polygon points="1328.1,365.3 1318.6,361.9 1318.7,465.9 1328.0,469.5 1328.1,365.3" fill="rgb(234,210,0)" stroke="rgb(234,210,0)" stroke-width="0.7" stroke-linejoin="round"/>
<polygon points="1406.5,661.0 1482.7,694.7 1484.9,632.0 1464.2,623.3 1406.5,661.0" fill="rgb(242,242,0)" stroke="rgb(242,242,0)" stroke-width="0.7" stroke-linejoin="round"/>
<polygon points="1482.7,694.7 1539.6,655.1 1484.9,632.0 1482.7,694.7" fill="rgb(181,181,0)" stroke="rgb(181,181,0)" stroke-width="0.7" stroke-linejoin="round"/>
<polygon points="1484.9,632.0 1539.6,655.1 1541.8,607.7 1508.7,594.3 1512.8,489.4 1504.9,494.2 1503.3,537.8 1487.7,547.4 1484.9,632.0" fill="rgb(209,209,0)" stroke="rgb(209,209,0)" stroke-width="0.7" stroke-linejoin="round"/>
<polygon points="1464.2,623.3 1484.9,632.0 1487.7,547.4 1466.0,560.9 1464.2,623.3" fill="rgb(252,252,0)" stroke="rgb(252,252,0)" stroke-width="0.7" stroke-linejoin="round"/>
<polygon points="1406.5,661.0 1464.2,623.3 1466.0,560.9 1450.5,570.6 1408.4,553.5 1406.5,661.0" fill="rgb(234,234,0)" stroke="rgb(234,234,0)" stroke-width="0.7" stroke-linejoin="round"/>
<polygon points="1466.0,560.9 1467.1,523.7 1451.9,517.8 1450.5,570.6 1466.0,560.9" fill="rgb(223,203,0)" stroke="rgb(223,203,0)" stroke-width="0.7" stroke-linejoin="round"/>
<polygon points="1467.1,523.7 1466.0,560.9 1487.7,547.4 1488.3,531.9 1467.1,523.7" fill="rgb(240,219,0)" stroke="rgb(240,219,0)" stroke-width="0.7" stroke-linejoin="round"/>
<polygon points="1467.1,523.7 1468.0,495.5 1452.6,489.6 1451.9,517.8 1467.1,523.7" fill="rgb(227,205,0)" stroke="rgb(227,205,0)" stroke-width="0.7" stroke-linejoin="round"/>
<polygon points="1468.0,495.5 1467.1,523.7 1488.3,531.9 1489.2,503.6 1468.0,495.5" fill="rgb(244,221,0)" stroke="rgb(244,221,0)" stroke-width="0.7" stroke-linejoin="round"/>
<polygon points="1468.0,495.5 1469.6,439.7 1453.7,448.6 1452.6,489.6 1468.0,495.5" fill="rgb(204,184,0)" stroke="rgb(204,184,0)" stroke-width="0.7" stroke-linejoin="round"/>
<polygon points="1469.6,439.7 1468.0,495.5 1489.2,503.6 1504.9,494.2 1506.4,453.0 1469.6,439.7" fill="rgb(221,200,0)" stroke="rgb(221,200,0)" stroke-width="0.7" stroke-linejoin="round"/>
<polygon points="1453.7,448.6 1469.6,439.7 1506.4,453.0 1514.4,240.4 1458.5,266.8 1453.7,448.6" fill="rgb(217,98,98)" stroke="rgb(217,98,98)" stroke-width="0.7" stroke-linejoin="round"/>
<polygon points="1453.7,448.6 1436.3,458.4 1435.7,483.2 1452.6,489.6 1453.7,448.6" fill="rgb(210,189,0)" stroke="rgb(210,189,0)" stroke-width="0.7" stroke-linejoin="round"/>
<polygon points="1436.3,458.4 1453.7,448.6 1458.5,266.8 1440.8,261.3 1436.3,458.4" fill="rgb(255,126,126)" stroke="rgb(255,126,126)" stroke-width="0.7" stroke-linejoin="round"/>
<polygon points="1436.3,458.4 1409.8,473.3 1435.7,483.2 1436.3,458.4" fill="rgb(210,187,0)" stroke="rgb(210,187,0)" stroke-width="0.7" stroke-linejoin="round"/>
<polygon points="1409.8,473.3 1408.8,526.6 1435.1,511.2 1435.7,483.2 1409.8,473.3" fill="rgb(233,208,0)" stroke="rgb(233,208,0)" stroke-width="0.7" stroke-linejoin="round"/>
<polygon points="1408.8,526.6 1408.4,553.5 1450.5,570.6 1451.9,517.8 1435.1,511.2 1408.8,526.6" fill="rgb(234,209,0)" stroke="rgb(234,209,0)" stroke-width="0.7" stroke-linejoin="round"/>
<polygon points="1541.8,607.7 1543.5,571.6 1508.7,594.3 1541.8,607.7" fill="rgb(209,187,0)" stroke="rgb(209,187,0)" stroke-width="0.7" stroke-linejoin="round"/>
<polygon points="1543.5,571.6 1541.8,607.7 1583.5,624.7 1586.5,570.2 1560.9,560.2 1543.5,571.6" fill="rgb(255,119,119)" stroke="rgb(255,119,119)" stroke-width="0.7" stroke-linejoin="round"/>
<polygon points="1543.5,571.6 1548.2,468.2 1512.8,489.4 1508.7,594.3 1543.5,571.6" fill="rgb(209,186,0)" stroke="rgb(209,186,0)" stroke-width="0.7" stroke-linejoin="round"/>
<polygon points="1548.2,468.2 1543.5,571.6 1560.9,560.2 1569.3,390.7 1517.3,373.2 1514.1,455.8 1548.2,468.2" fill="rgb(253,114,114)" stroke="rgb(253,114,114)" stroke-width="0.7" stroke-linejoin="round"/>
<polygon points="1548.2,468.2 1514.1,455.8 1512.8,489.4 1548.2,468.2" fill="rgb(228,203,0)" stroke="rgb(228,203,0)" stroke-width="0.7" stroke-linejoin="round"/>
<polygon points="1514.1,455.8 1506.4,453.0 1504.9,494.2 1512.8,489.4 1514.1,455.8" fill="rgb(228,228,0)" stroke="rgb(228,228,0)" stroke-width="0.7" stroke-linejoin="round"/>
<polygon points="1488.3,531.9 1487.7,547.4 1503.3,537.8 1488.3,531.9" fill="rgb(200,182,0)" stroke="rgb(200,182,0)" stroke-width="0.7" stroke-linejoin="round"/>
<polygon points="1489.2,503.6 1488.3,531.9 1503.3,537.8 1504.9,494.2 1489.2,503.6" fill="rgb(203,184,0)" stroke="rgb(203,184,0)" stroke-width="0.7" stroke-linejoin="round"/>
<polygon points="1452.6,489.6 1435.7,483.2 1435.1,511.2 1451.9,517.8 1452.6,489.6" fill="rgb(234,210,0)" stroke="rgb(234,210,0)" stroke-width="0.7" stroke-linejoin="round"/>
<polygon points="1318.3,78.9 1318.3,43.5 1259.1,63.5 1318.3,78.9" fill="rgb(218,99,99)" stroke="rgb(218,99,99)" stroke-width="0.7" stroke-linejoin="round"/>
<polygon points="1318.3,43.5 1318.3,78.9 1328.4,81.5 1387.0,60.6 1318.3,43.5" fill="rgb(245,111,111)" stroke="rgb(245,111,111)" stroke-width="0.7" stroke-linejoin="round"/>
<polygon points="1440.8,261.3 1441.8,219.0 1385.2,244.2 1440.8,261.3" fill="rgb(218,99,99)" stroke="rgb(218,99,99)" stroke-width="0.7" stroke-linejoin="round"/>
<polygon points="1441.8,219.0 1440.8,261.3 1458.5,266.8 1514.4,240.4 1441.8,219.0" fill="rgb(245,111,111)" stroke="rgb(245,111,111)" stroke-width="0.7" stroke-linejoin="round"/>
<polygon points="1583.5,624.7 1634.9,589.0 1586.5,570.2 1583.5,624.7" fill="rgb(197,88,88)" stroke="rgb(197,88,88)" stroke-width="0.7" stroke-linejoin="round"/>
<polygon points="1586.5,570.2 1634.9,589.0 1649.2,368.7 1595.8,399.6 1586.5,570.2" fill="rgb(217,98,98)" stroke="rgb(217,98,98)" stroke-width="0.7" stroke-linejoin="round"/>
<polygon points="1560.9,560.2 1586.5,570.2 1595.8,399.6 1569.3,390.7 1560.9,560.2" fill="rgb(255,126,126)" stroke="rgb(255,126,126)" stroke-width="0.7" stroke-linejoin="round"/>
<polygon points="1569.3,390.7 1571.6,343.8 1517.3,373.2 1569.3,390.7" fill="rgb(218,99,99)" stroke="rgb(218,99,99)" stroke-width="0.7" stroke-linejoin="round"/>
<polygon points="1571.6,343.8 1569.3,390.7 1595.8,399.6 1649.2,368.7 1571.6,343.8" fill="rgb(245,111,111)" stroke="rgb(245,111,111)" stroke-width="0.7" stroke-linejoin="round"/>
<line x1="989.1" y1="616.0" x2="1315.1" y2="445.0" stroke="#000" stroke-width="1.6" stroke-linecap="butt" stroke-opacity="0.09"/>
<line x1="1315.1" y1="445.0" x2="1685.7" y2="586.9" stroke="#000" stroke-width="1.6" stroke-linecap="butt" stroke-opacity="0.07"/>
<polyline points="989.1,616.0 955.7,141.1 1314.4,23.3 1721.0,121.5 1717.2,172.1" fill="none" stroke="#000" stroke-width="3.7" stroke-linejoin="miter" stroke-linecap="butt"/>
<polygon points="991.4,615.8 957.9,141.0 953.6,141.3 986.8,616.1" fill="#000"/>
<polygon points="956.4,143.2 1315.0,25.1 1313.8,21.5 955.1,139.1" fill="#000"/>
<polygon points="1314.0,25.1 1720.5,123.8 1721.6,119.2 1314.9,21.5" fill="#000"/>
<polyline points="986.1,572.4 989.1,616.0 1376.5,807.4 1685.7,586.9 1721.0,121.5 1707.2,118.2" fill="none" stroke="#000" stroke-width="5.3" stroke-linejoin="miter" stroke-linecap="butt"/>
<line x1="1046.7" y1="644.4" x2="1053.3" y2="640.8" stroke="#000" stroke-width="3.8" stroke-linecap="round"/>
<line x1="1435.3" y1="765.5" x2="1428.5" y2="762.3" stroke="#000" stroke-width="3.8" stroke-linecap="round"/>
<line x1="1169.6" y1="705.2" x2="1176.0" y2="701.3" stroke="#000" stroke-width="3.8" stroke-linecap="round"/>
<line x1="1543.4" y1="688.4" x2="1536.6" y2="685.4" stroke="#000" stroke-width="3.8" stroke-linecap="round"/>
<line x1="1304.2" y1="771.7" x2="1310.5" y2="767.5" stroke="#000" stroke-width="3.8" stroke-linecap="round"/>
<line x1="1640.7" y1="619.0" x2="1633.7" y2="616.2" stroke="#000" stroke-width="3.8" stroke-linecap="round"/>
<line x1="1685.7" y1="586.9" x2="1677.0" y2="584.9" stroke="#000" stroke-width="4.4" stroke-linecap="round"/>
<line x1="1686.6" y1="575.5" x2="1677.8" y2="573.5" stroke="#000" stroke-width="4.4" stroke-linecap="round"/>
<line x1="1687.4" y1="564.1" x2="1678.7" y2="562.1" stroke="#000" stroke-width="4.4" stroke-linecap="round"/>
<line x1="1688.3" y1="552.7" x2="1679.5" y2="550.7" stroke="#000" stroke-width="4.4" stroke-linecap="round"/>
<line x1="1689.1" y1="541.2" x2="1680.4" y2="539.2" stroke="#000" stroke-width="4.4" stroke-linecap="round"/>
<line x1="1690.0" y1="529.7" x2="1681.2" y2="527.7" stroke="#000" stroke-width="4.4" stroke-linecap="round"/>
<line x1="1690.9" y1="518.1" x2="1682.1" y2="516.1" stroke="#000" stroke-width="4.4" stroke-linecap="round"/>
<line x1="1691.7" y1="506.5" x2="1683.0" y2="504.5" stroke="#000" stroke-width="4.4" stroke-linecap="round"/>
<line x1="1692.6" y1="494.8" x2="1683.8" y2="492.9" stroke="#000" stroke-width="4.4" stroke-linecap="round"/>
<line x1="1693.5" y1="483.1" x2="1684.7" y2="481.2" stroke="#000" stroke-width="4.4" stroke-linecap="round"/>
<line x1="1694.4" y1="471.4" x2="1685.6" y2="469.5" stroke="#000" stroke-width="4.4" stroke-linecap="round"/>
<line x1="1695.3" y1="459.6" x2="1686.5" y2="457.7" stroke="#000" stroke-width="4.4" stroke-linecap="round"/>
<line x1="1696.2" y1="447.7" x2="1687.4" y2="445.9" stroke="#000" stroke-width="4.4" stroke-linecap="round"/>
<line x1="1697.0" y1="435.9" x2="1688.2" y2="434.0" stroke="#000" stroke-width="4.4" stroke-linecap="round"/>
<line x1="1697.9" y1="423.9" x2="1689.1" y2="422.1" stroke="#000" stroke-width="4.4" stroke-linecap="round"/>
<line x1="1698.9" y1="412.0" x2="1690.0" y2="410.1" stroke="#000" stroke-width="4.4" stroke-linecap="round"/>
<line x1="1699.8" y1="399.9" x2="1690.9" y2="398.1" stroke="#000" stroke-width="4.4" stroke-linecap="round"/>
<line x1="1700.7" y1="387.9" x2="1691.9" y2="386.1" stroke="#000" stroke-width="4.4" stroke-linecap="round"/>
<line x1="1701.6" y1="375.8" x2="1692.8" y2="374.0" stroke="#000" stroke-width="4.4" stroke-linecap="round"/>
<line x1="1702.5" y1="363.6" x2="1693.7" y2="361.8" stroke="#000" stroke-width="4.4" stroke-linecap="round"/>
<line x1="1703.4" y1="351.4" x2="1694.6" y2="349.6" stroke="#000" stroke-width="4.4" stroke-linecap="round"/>
<line x1="1704.4" y1="339.1" x2="1695.5" y2="337.4" stroke="#000" stroke-width="4.4" stroke-linecap="round"/>
<line x1="1705.3" y1="326.8" x2="1696.5" y2="325.1" stroke="#000" stroke-width="4.4" stroke-linecap="round"/>
<line x1="1706.2" y1="314.5" x2="1697.4" y2="312.7" stroke="#000" stroke-width="4.4" stroke-linecap="round"/>
<line x1="1707.2" y1="302.1" x2="1698.4" y2="300.3" stroke="#000" stroke-width="4.4" stroke-linecap="round"/>
<line x1="1708.1" y1="289.6" x2="1699.3" y2="287.9" stroke="#000" stroke-width="4.4" stroke-linecap="round"/>
<line x1="1709.1" y1="277.1" x2="1700.3" y2="275.4" stroke="#000" stroke-width="4.4" stroke-linecap="round"/>
<line x1="1710.0" y1="264.5" x2="1701.2" y2="262.8" stroke="#000" stroke-width="4.4" stroke-linecap="round"/>
<line x1="1711.0" y1="251.9" x2="1702.2" y2="250.2" stroke="#000" stroke-width="4.4" stroke-linecap="round"/>
<line x1="1712.0" y1="239.2" x2="1703.1" y2="237.6" stroke="#000" stroke-width="4.4" stroke-linecap="round"/>
<line x1="1713.0" y1="226.5" x2="1704.1" y2="224.9" stroke="#000" stroke-width="4.4" stroke-linecap="round"/>
<line x1="1713.9" y1="213.8" x2="1705.1" y2="212.1" stroke="#000" stroke-width="4.4" stroke-linecap="round"/>
<line x1="1714.9" y1="200.9" x2="1706.1" y2="199.3" stroke="#000" stroke-width="4.4" stroke-linecap="round"/>
<line x1="1715.9" y1="188.0" x2="1707.1" y2="186.4" stroke="#000" stroke-width="4.4" stroke-linecap="round"/>
<line x1="1716.9" y1="175.1" x2="1708.0" y2="173.5" stroke="#000" stroke-width="4.4" stroke-linecap="round"/>
<line x1="1717.9" y1="162.1" x2="1709.0" y2="160.5" stroke="#000" stroke-width="4.4" stroke-linecap="round"/>
<line x1="1718.9" y1="149.1" x2="1710.0" y2="147.5" stroke="#000" stroke-width="4.4" stroke-linecap="round"/>
<line x1="1719.9" y1="136.0" x2="1711.0" y2="134.4" stroke="#000" stroke-width="4.4" stroke-linecap="round"/>
<text transform="translate(1057.2,561.7) rotate(-27.7)" font-size="28.5" font-weight="bold" text-anchor="start"><tspan>8.78×10</tspan><tspan dy="-9.4" font-size="16.0">3</tspan><tspan dy="9.4">s</tspan></text>
<text transform="translate(1201.1,656.5) rotate(-28.6)" font-size="28.5" font-weight="bold" text-anchor="start"><tspan>0.87</tspan><tspan>s</tspan></text>
<text transform="translate(1317.1,766.8) rotate(-34.1)" font-size="28.5" font-weight="bold" text-anchor="start"><tspan>3.47×10</tspan><tspan dx="3.0" dy="-7.9" font-size="20.5" font-weight="normal">−</tspan><tspan dx="3.0" dy="-1.5" font-size="16.0">3</tspan><tspan dx="1.0" dy="9.4">s</tspan></text>
<text transform="translate(1159.8,195.4) rotate(-21.7)" font-size="28.5" font-weight="bold" text-anchor="start"><tspan>1.08×10</tspan><tspan dy="-9.4" font-size="16.0">29</tspan><tspan dy="9.4">s</tspan></text>
<text transform="translate(1293.7,367.3) rotate(-22.7)" font-size="28.5" font-weight="bold" text-anchor="start"><tspan>5.28×10</tspan><tspan dy="-9.4" font-size="16.0">18</tspan><tspan dy="9.4">s</tspan></text>
<text transform="translate(1423.2,499.8) rotate(-26.2)" font-size="28.5" font-weight="bold" text-anchor="start"><tspan>3.58×10</tspan><tspan dy="-9.4" font-size="16.0">12</tspan><tspan dy="9.4">s</tspan></text>
<text transform="translate(1258.2,98.1) rotate(-23.2)" font-size="28.5" font-weight="bold" text-anchor="start"><tspan>4.09×10</tspan><tspan dy="-9.4" font-size="16.0">34</tspan><tspan dy="9.4">s</tspan></text>
<text transform="translate(1405.6,266.6) rotate(-24.1)" font-size="28.5" font-weight="bold" text-anchor="start"><tspan>7.95×10</tspan><tspan dy="-9.4" font-size="16.0">22</tspan><tspan dy="9.4">s</tspan></text>
<text transform="translate(1539.5,405.4) rotate(-27.8)" font-size="28.5" font-weight="bold" text-anchor="start"><tspan>7.80×10</tspan><tspan dy="-9.4" font-size="16.0">15</tspan><tspan dy="9.4">s</tspan></text>
<text transform="translate(976.7,673.6) rotate(23.5) skewX(4.0)" font-size="36.5" font-weight="bold" text-anchor="start"><tspan>298K</tspan></text>
<text transform="translate(1105.5,737.7) rotate(24.5) skewX(4.0)" font-size="36.5" font-weight="bold" text-anchor="start"><tspan>398K</tspan></text>
<text transform="translate(1239.7,802.3) rotate(22.5) skewX(4.0)" font-size="36.5" font-weight="bold" text-anchor="start"><tspan>498K</tspan></text>
<text transform="translate(1455.6,815.4) rotate(-31.0) skewX(-3.0)" font-size="37.0" font-weight="bold" text-anchor="start"><tspan>H</tspan><tspan dy="6.3" font-size="24.4">2</tspan></text>
<text transform="translate(1549.9,743.6) rotate(-32.0) skewX(-3.0)" font-size="37.0" font-weight="bold" text-anchor="start"><tspan>CO</tspan></text>
<text transform="translate(1641.2,678.7) rotate(-33.5) skewX(-4.0)" font-size="37.0" font-weight="bold" text-anchor="start"><tspan>C</tspan><tspan dy="6.3" font-size="24.4">2</tspan><tspan dy="-6.3">H</tspan><tspan dy="6.3" font-size="24.4">2</tspan></text>
<text transform="matrix(0.9546,0.2978,-0.1307,0.9914,1727.6,174.9)" font-size="22.0" font-weight="bold"><tspan>10</tspan><tspan dy="-9.8" font-size="16.3">32</tspan></text>
<text transform="matrix(0.9519,0.3065,-0.1171,0.9931,1722.7,239.3)" font-size="22.0" font-weight="bold"><tspan>10</tspan><tspan dy="-9.7" font-size="15.9">27</tspan></text>
<text transform="matrix(0.9490,0.3152,-0.1034,0.9946,1717.8,302.4)" font-size="22.0" font-weight="bold"><tspan>10</tspan><tspan dy="-9.5" font-size="15.5">22</tspan></text>
<text transform="matrix(0.9461,0.3239,-0.0898,0.9960,1713.1,364.2)" font-size="22.0" font-weight="bold"><tspan>10</tspan><tspan dy="-9.4" font-size="15.1">17</tspan></text>
<text transform="matrix(0.9431,0.3326,-0.0761,0.9971,1708.6,424.8)" font-size="22.0" font-weight="bold"><tspan>10</tspan><tspan dy="-9.2" font-size="14.8">12</tspan></text>
<text transform="matrix(0.9400,0.3412,-0.0624,0.9981,1704.1,484.2)" font-size="22.0" font-weight="bold"><tspan>10</tspan><tspan dy="-9.1" font-size="14.4">7</tspan></text>
<text transform="matrix(0.9368,0.3498,-0.0486,0.9988,1699.7,542.5)" font-size="22.0" font-weight="bold"><tspan>10</tspan><tspan dy="-8.9" font-size="14.0">2</tspan></text>
<text transform="matrix(0.9336,0.3584,-0.0349,0.9994,1695.4,599.7)" font-size="22.0" font-weight="bold"><tspan>10</tspan><tspan dy="-8.8" font-size="13.6">-3</tspan></text>
<text letter-spacing="0.5" transform="translate(1779.1,499.2) rotate(-84.9)" font-size="36.4" font-weight="bold" text-anchor="start"><tspan>Recovery time(s)</tspan></text>
<text transform="translate(1390.5,896.9) rotate(0.0)" font-size="73.5" font-weight="normal" text-anchor="middle"><tspan>(b)</tspan></text>
</svg>
</body></html>
